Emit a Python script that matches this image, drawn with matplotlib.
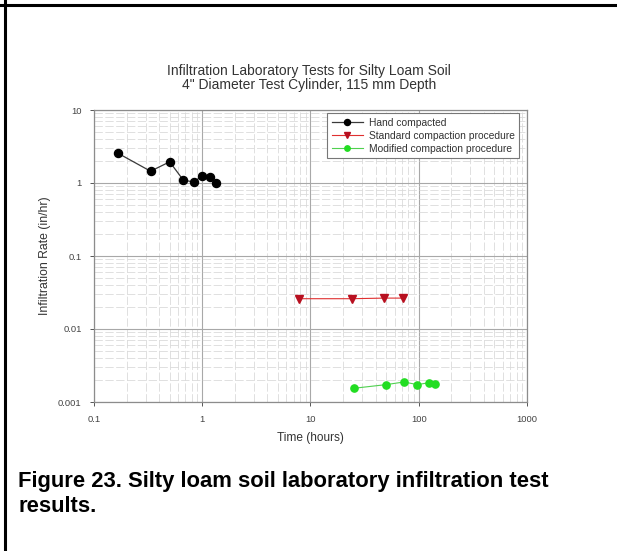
import numpy as np
import matplotlib.pyplot as plt
from matplotlib.lines import Line2D
from matplotlib.ticker import LogLocator, NullFormatter, FixedLocator, FixedFormatter

plt.rcParams['font.family'] = ['Liberation Sans', 'DejaVu Sans']

# hand compacted
t_hand = [0.167, 0.333, 0.5, 0.667, 0.833, 1.0, 1.167, 1.333]
r_hand = [2.55, 1.45, 1.95, 1.1, 1.03, 1.25, 1.2, 1.0]

# standard compaction procedure
t_std = [7.8, 24, 48, 72]
r_std = [0.026, 0.026, 0.0265, 0.0265]

# modified compaction procedure
t_mod = [25, 50, 73, 97, 125, 142]
r_mod = [0.00154, 0.00173, 0.00188, 0.00173, 0.00184, 0.00175]

x_ticks = [0.1, 1, 10, 100, 1000]
x_labels = ['0.1', '1', '10', '100', '1000']
y_ticks = [0.001, 0.01, 0.1, 1, 10]
y_labels = ['0.001', '0.01', '0.1', '1', '10']

W, H = 617, 551
fig = plt.figure(figsize=(W / 100, H / 100), dpi=100)
ax = fig.add_axes([94 / W, 1 - 402 / H, 433 / W, 292 / H])

ax.set_xscale('log')
ax.set_yscale('log')
ax.set_xlim(0.1, 1000)
ax.set_ylim(0.001, 10)

ax.plot(t_hand, r_hand, color='#3a3a3a', lw=0.9, marker='o', ms=5.8,
        mfc='black', mec='black', label='Hand compacted', zorder=5)
ax.plot(t_std, r_std, color='#e03030', lw=0.8, marker='v', ms=6,
        mfc='#b81020', mec='#b81020', label='Standard compaction procedure', zorder=5)
ax.plot(t_mod, r_mod, color='#50d050', lw=0.8, marker='o', ms=5.2,
        mfc='#22dd22', mec='#22dd22', label='Modified compaction procedure', zorder=5)

ax.xaxis.set_major_locator(FixedLocator(x_ticks))
ax.xaxis.set_major_formatter(FixedFormatter(x_labels))
ax.yaxis.set_major_locator(FixedLocator(y_ticks))
ax.yaxis.set_major_formatter(FixedFormatter(y_labels))
ax.xaxis.set_minor_locator(LogLocator(base=10, subs=np.arange(2, 10), numticks=20))
ax.yaxis.set_minor_locator(LogLocator(base=10, subs=np.arange(2, 10), numticks=20))
ax.xaxis.set_minor_formatter(NullFormatter())
ax.yaxis.set_minor_formatter(NullFormatter())

ax.grid(which='major', color='#a8a8a8', lw=0.8)
ax.grid(which='minor', color='#dadada', lw=0.6, linestyle=(0, (10, 3)))
ax.set_axisbelow(True)
ax.tick_params(which='major', direction='out', length=3, width=0.7,
               color='#555555', labelsize=6.8, labelcolor='#444444')
ax.tick_params(axis='x', which='major', pad=6)
ax.tick_params(axis='y', which='major', pad=6)
ax.tick_params(which='minor', length=0)
for s in ax.spines.values():
    s.set_color('#8c8c8c')
    s.set_linewidth(0.9)

ax.set_xlabel('Time (hours)', fontsize=8.6, color='#333333', labelpad=6)
ax.set_ylabel('Infiltration Rate (in/hr)', fontsize=8.8, color='#333333', labelpad=5)

fig.text(309 / W, 1 - 71 / H, 'Infiltration Laboratory Tests for Silty Loam Soil',
         ha='center', va='center', fontsize=10, color='#333333')
fig.text(309 / W, 1 - 85 / H, '4" Diameter Test Cylinder, 115 mm Depth',
         ha='center', va='center', fontsize=10, color='#333333')

leg = ax.legend(loc='upper right', bbox_to_anchor=(0.987, 0.997), fontsize=7.4,
                frameon=True, fancybox=False, borderpad=0.45, handlelength=3,
                labelspacing=0.3, handletextpad=0.6, markerscale=0.75,
                borderaxespad=0.2)
leg.get_frame().set_edgecolor('#777777')
leg.get_frame().set_linewidth(0.8)
leg.get_frame().set_alpha(1)
for txt in leg.get_texts():
    txt.set_color('#333333')

fig.text(18 / W, 1 - 481 / H, 'Figure 23. Silty loam soil laboratory infiltration test',
         ha='left', va='center', fontsize=15.8, fontweight='bold', color='black')
fig.text(18 / W, 1 - 506 / H, 'results.',
         ha='left', va='center', fontsize=15.8, fontweight='bold', color='black')

# page border lines
fig.add_artist(Line2D([0, 1], [1 - 5 / H, 1 - 5 / H], color='black', lw=2.2))
fig.add_artist(Line2D([5 / W, 5 / W], [0, 1], color='black', lw=2.2))

fig.savefig('out.png', dpi=100)
